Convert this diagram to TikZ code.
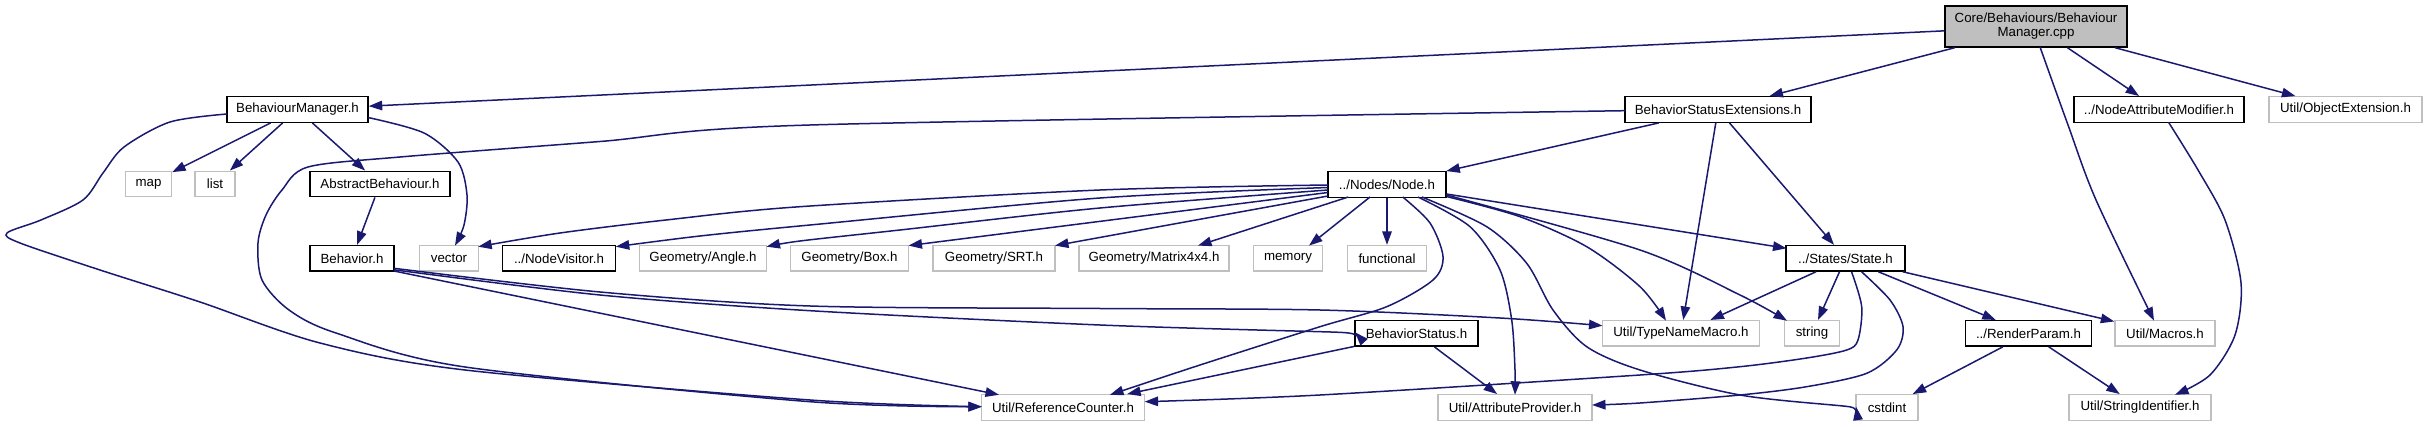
\documentclass[tikz,border=0pt]{standalone}
\usepackage{fontspec}
\setmainfont{Liberation Sans}
\usetikzlibrary{arrows.meta,calc}
\definecolor{edgeblue}{HTML}{191970}
\definecolor{lightgr}{HTML}{BFBFBF}
\begin{document}
\begin{tikzpicture}[x=1pt,y=-1pt,
  box/.style={draw=black,line width=1.4pt,minimum height=25.5pt,inner sep=0pt,
    font=\fontsize{13.3}{14}\selectfont,text=black},
  sys/.style={box,draw=lightgr},
  edge/.style={draw=edgeblue,line width=1.5pt,-{Triangle[length=13.5pt,width=9.5pt]}},
  sm/.style={smooth,tension=0.5}
]
\useasboundingbox (0,0) rectangle (2427,427);
% nodes
\node[box,fill=lightgr,minimum width=182pt,minimum height=41pt,align=center] (cpp) at (2036,26.5) {Core/Behaviours/Behaviour\\Manager.cpp};
\node[box,minimum width=141pt] (bmh) at (297.5,109.5) {BehaviourManager.h};
\node[box,minimum width=186pt] (bse) at (1718,109.5) {BehaviorStatusExtensions.h};
\node[box,minimum width=170pt] (nam) at (2159,109.5) {../NodeAttributeModifier.h};
\node[sys,minimum width=153pt] (objext) at (2345.5,109.5) {Util/ObjectExtension.h};
\node[sys,minimum width=46pt] (map) at (148.5,184) {map};
\node[sys,minimum width=40pt] (list) at (215,184) {list};
\node[box,minimum width=140pt] (absb) at (380,184) {AbstractBehaviour.h};
\node[box,minimum width=118pt] (nodeh) at (1387,184.5) {../Nodes/Node.h};
\node[box,minimum width=84pt] (behh) at (352,258.3) {Behavior.h};
\node[sys,minimum width=58.5pt] (vector) at (449,258.3) {vector};
\node[box,minimum width=113pt] (nodevis) at (559,258.3) {../NodeVisitor.h};
\node[sys,minimum width=127pt] (angle) at (703,258.3) {Geometry/Angle.h};
\node[sys,minimum width=118pt] (box) at (849.5,258.3) {Geometry/Box.h};
\node[sys,minimum width=122pt] (srt) at (994,258.3) {Geometry/SRT.h};
\node[sys,minimum width=150pt] (matrix) at (1154,258.3) {Geometry/Matrix4x4.h};
\node[sys,minimum width=69pt] (memory) at (1288,258.3) {memory};
\node[sys,minimum width=79pt] (functional) at (1387,258.3) {functional};
\node[box,minimum width=119pt] (stateh) at (1845.5,258.3) {../States/State.h};
\node[box,minimum width=123pt] (bstatus) at (1416.5,333.4) {BehaviorStatus.h};
\node[sys,minimum width=157pt] (typename) at (1681,333.4) {Util/TypeNameMacro.h};
\node[sys,minimum width=55pt] (string) at (1812,333.4) {string};
\node[box,minimum width=126pt] (rp) at (2028.5,333.4) {../RenderParam.h};
\node[sys,minimum width=100pt] (macros) at (2165,333.4) {Util/Macros.h};
\node[sys,minimum width=163pt] (refcount) at (1063,407.5) {Util/ReferenceCounter.h};
\node[sys,minimum width=154pt] (attrprov) at (1515,407.5) {Util/AttributeProvider.h};
\node[sys,minimum width=62pt] (cstdint) at (1887,407.5) {cstdint};
\node[sys,minimum width=142pt] (stringid) at (2140,407.5) {Util/StringIdentifier.h};
% straight edges
\draw[edge] (cpp) -- (bmh);
\draw[edge] (cpp) -- (bse);
\draw[edge] (cpp) -- (nam);
\draw[edge] (cpp) -- (objext);
\draw[edge] (bmh) -- (map);
\draw[edge] (bmh) -- (list);
\draw[edge] (bmh) -- (absb);
\draw[edge] (absb) -- (behh);
\draw[edge] (bse) -- (nodeh);
\draw[edge] (bse) -- (typename);
\draw[edge] (bse) -- (stateh);
\draw[edge] (nodeh) -- (functional);
\draw[edge] (bstatus) -- (refcount);
\draw[edge] (bstatus) -- (attrprov);
\draw[edge] (stateh) -- (typename);
\draw[edge] (stateh) -- (string);
\draw[edge] (stateh) -- (rp);
\draw[edge] (stateh) -- (macros);
\draw[edge] (rp) -- (cstdint);
\draw[edge] (rp) -- (stringid);
\draw[edge] ($(nodeh)+(-59,8)$) -- ($(box)+(59,-12.7)$);
\draw[edge] ($(nodeh)+(-59,11.5)$) -- ($(srt)+(61,-12.7)$);
\draw[edge] ($(nodeh)+(-38.7,12.5)$) -- ($(matrix)+(44,-12.7)$);
\draw[edge] ($(nodeh)+(-17,12.5)$) -- ($(memory)+(21,-12.7)$);
\draw[edge] ($(nodeh)+(59.5,9.5)$) -- ($(stateh)+(-59,-10)$);
\draw[edge] ($(behh)+(42,12.7)$) -- ($(refcount)+(-64,-12.7)$);
% curved edges
\draw[edge] plot[sm] coordinates {($(cpp)+(4,20.5)$) (2068,125) (2096,200) ($(macros)+(-11,-12.7)$)};
\draw[edge] plot[sm] coordinates {($(bmh)+(70.5,8)$) (424,133) (458,162) (467,195) (464,225) ($(vector)+(6,-12.7)$)};
\draw[edge] plot[sm] coordinates {($(bmh)+(-70.5,4.5)$) (170,122) (124,147) (103,173) (83,200) (41,220) (7,233) (20,243) (100,270) (200,302) (320,343) (465,370) (810,400) ($(refcount)+(-81.2,-0.8)$)};
\draw[edge] plot[sm] coordinates {($(bse)+(-93,1.2)$) (810,125) (600,141.5) (400,157) (308,167) (282,190) (266,215) (258,243) (262,280) (289,310) (336,333) (465,367) (810,401.7) ($(refcount)+(-81.2,-0.8)$)};
\draw[edge] plot[sm] coordinates {($(nodeh)+(-59,0.5)$) (1100,190) (800,206.7) (666,220) (560,233) ($(vector)+(29.2,-11.6)$)};
\draw[edge] plot[sm] coordinates {($(nodeh)+(-59,3)$) (1100,198) (810,225) (700,236) ($(nodevis)+(56.8,-11.6)$)};
\draw[edge] plot[sm] coordinates {($(nodeh)+(-59,5.5)$) (1100,208) (900,230) (800,241) ($(angle)+(63.5,-11.6)$)};
\draw[edge] plot[sm] coordinates {($(nodeh)+(15.7,12.5)$) (1430,223) (1443,256.7) (1433,280) (1386.7,306.7) (1320,326.7) (1200,365) ($(refcount)+(47,-12.7)$)};
\draw[edge] plot[sm] coordinates {($(nodeh)+(31,12.5)$) (1470,226.7) (1500,270) (1511.7,320) (1515,370) ($(attrprov)+(0,-12.7)$)};
\draw[edge] plot[sm] coordinates {($(nodeh)+(35,12.5)$) (1486.7,226.7) (1526.7,263.3) (1553,310) (1586.7,346.7) (1640,370) (1740,395) (1840,405.7) ($(cstdint)+(-31,-0.8)$)};
\draw[edge] plot[sm] coordinates {($(nodeh)+(59.5,12)$) (1520,216.7) (1586.7,246.7) (1640,286.7) ($(typename)+(-15,-12.7)$)};
\draw[edge] plot[sm] coordinates {($(nodeh)+(59.5,10.5)$) (1640,250) (1740,295) ($(string)+(-25,-12.7)$)};
\draw[edge] plot[sm] coordinates {($(behh)+(42,10)$) (600,292) (810,306) (1100,308.5) (1320,310) (1500,318) ($(typename)+(-78.5,-7.7)$)};
\draw[edge] plot[sm] coordinates {($(behh)+(42,11.5)$) (600,295) (810,310.7) (1100,325) (1320,331.7) ($(bstatus)+(-61.5,-1.1)$)};
\draw[edge] plot[sm] coordinates {($(stateh)+(6,13.4)$) (1861.7,306.7) (1858,340) (1846.7,350) (1806.7,358) (1740,366.7) (1640,375) (1320,395) ($(refcount)+(81.6,-5.8)$)};
\draw[edge] plot[sm] coordinates {($(stateh)+(16,13.4)$) (1890,300) (1903,326.7) (1896.7,350) (1866.7,373.3) (1806.7,386.7) (1740,395) (1640,403) ($(attrprov)+(77,-2.5)$)};
\draw[edge] plot[sm] coordinates {($(nam)+(9.5,12.7)$) (2198,170) (2225,220) (2241,283) (2235,335) (2210,375) ($(stringid)+(35,-12.7)$)};
\end{tikzpicture}
\end{document}
